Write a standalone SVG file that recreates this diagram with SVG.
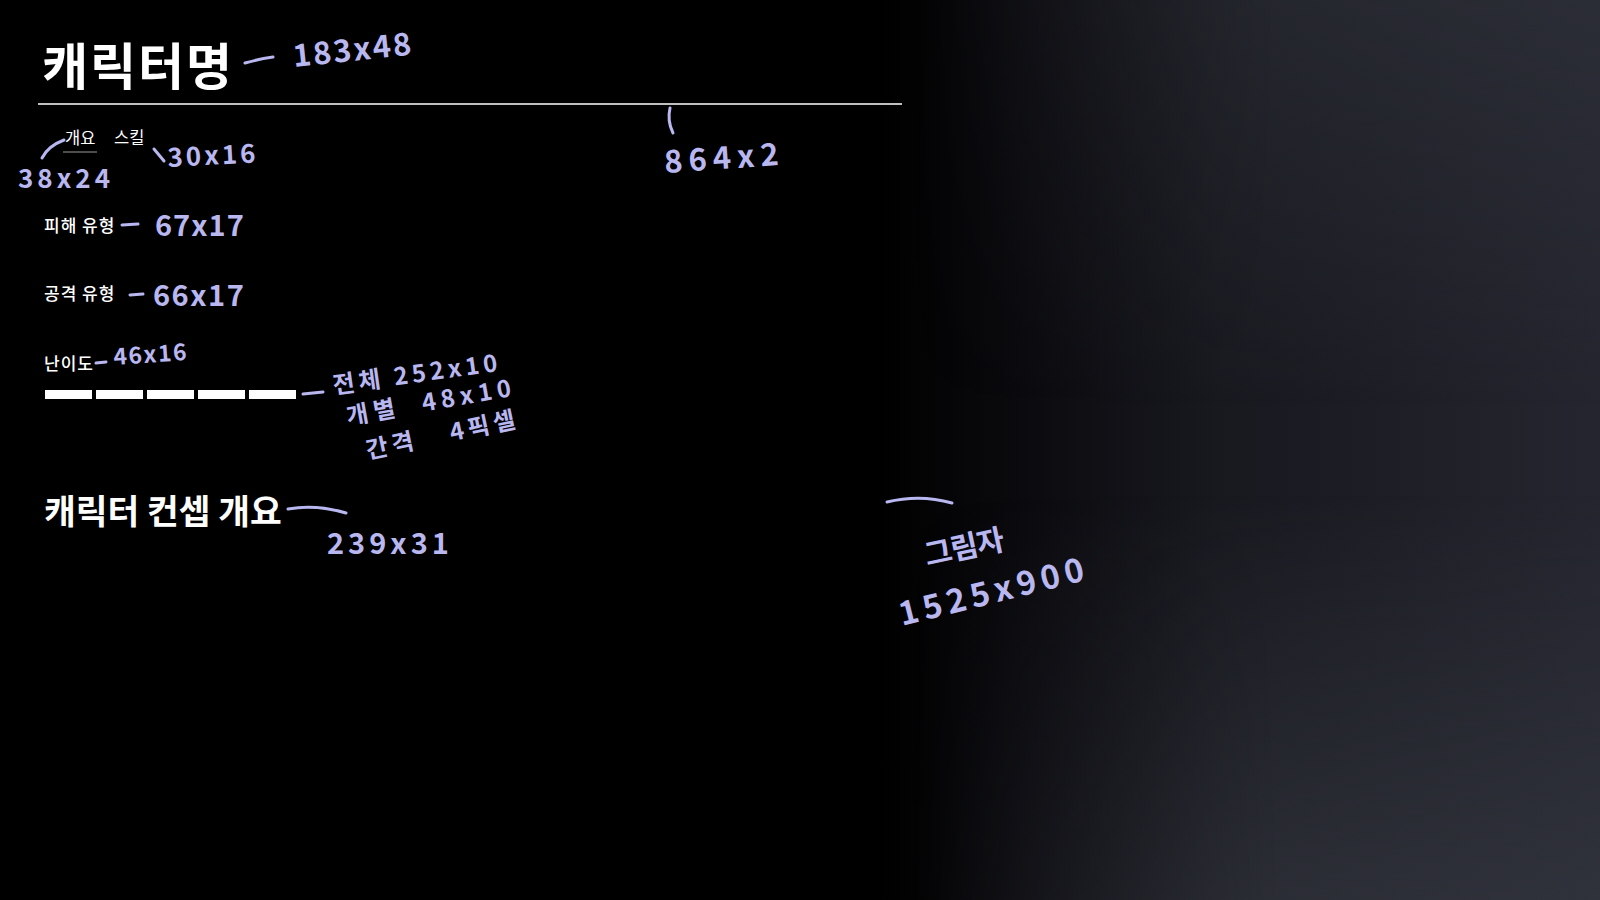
<svg xmlns="http://www.w3.org/2000/svg" width="1600" height="900" viewBox="0 0 1600 900">
  <defs>
    <linearGradient id="bgH" x1="0" y1="0" x2="1600" y2="0" gradientUnits="userSpaceOnUse">
      <stop offset="0.55" stop-color="#000000"/>
      <stop offset="0.64" stop-color="#0b0b0f"/>
      <stop offset="0.76" stop-color="#18191f"/>
      <stop offset="1" stop-color="#24252e"/>
    </linearGradient>
    <linearGradient id="bgV" x1="0" y1="0" x2="0" y2="900" gradientUnits="userSpaceOnUse">
      <stop offset="0" stop-color="#3a3d46" stop-opacity="0.35"/>
      <stop offset="0.45" stop-color="#3a3d46" stop-opacity="0"/>
      <stop offset="0.55" stop-color="#3a3d46" stop-opacity="0"/>
      <stop offset="1" stop-color="#3a3d46" stop-opacity="0.55"/>
    </linearGradient>
    <linearGradient id="maskG" x1="0" y1="0" x2="1600" y2="0" gradientUnits="userSpaceOnUse">
      <stop offset="0.57" stop-color="#000"/>
      <stop offset="0.8" stop-color="#fff"/>
      <stop offset="1" stop-color="#fff"/>
    </linearGradient>
    <mask id="fadeMask">
      <rect x="0" y="0" width="1600" height="900" fill="url(#maskG)"/>
    </mask>
    <style>
      .ui { font-family: "Noto Sans CJK KR", "Noto Sans", sans-serif; fill: #ffffff; }
      .hw { font-family: "Noto Sans CJK KR", "Noto Sans", sans-serif; fill: #b9b7f0; font-weight: 600; }
      .stroke { fill: none; stroke: #b9b7f0; stroke-width: 3; stroke-linecap: round; stroke-linejoin: round; }
      .bar { fill: #ffffff; }
    </style>
  </defs>

  <rect x="0" y="0" width="1600" height="900" fill="#000000"/>
  <rect x="0" y="0" width="1600" height="900" fill="url(#bgH)"/>
  <rect x="0" y="0" width="1600" height="900" fill="url(#bgV)" mask="url(#fadeMask)"/>

  <g id="title">
    <text class="ui" x="42" y="85" font-size="50" font-weight="700" letter-spacing="2">캐릭터명</text>
  </g>
  <g id="divider">
    <line x1="38" y1="104" x2="902" y2="104" stroke="#ffffff" stroke-width="1.5"/>
  </g>
  <g id="tabs">
    <text class="ui" x="65" y="144" font-size="16.5">개요</text>
    <line x1="63" y1="152" x2="97" y2="152" stroke="#9a9a9a" stroke-width="1"/>
    <text class="ui" x="114" y="144" font-size="16.5">스킬</text>
  </g>
  <g id="damage-type">
    <text class="ui" x="44" y="232" font-size="17" font-weight="500" letter-spacing="1">피해 유형</text>
  </g>
  <g id="attack-type">
    <text class="ui" x="44" y="300" font-size="17" font-weight="500" letter-spacing="1">공격 유형</text>
  </g>
  <g id="difficulty">
    <text class="ui" x="44" y="370" font-size="17" font-weight="500" letter-spacing="1">난이도</text>
    <rect class="bar" x="45" y="390" width="47" height="9"/>
    <rect class="bar" x="96" y="390" width="47" height="9"/>
    <rect class="bar" x="147" y="390" width="47" height="9"/>
    <rect class="bar" x="198" y="390" width="47" height="9"/>
    <rect class="bar" x="249" y="390" width="47" height="9"/>
  </g>
  <g id="concept-title">
    <text class="ui" x="44" y="524" font-size="34.5" font-weight="700">캐릭터 컨셉 개요</text>
  </g>

  <g id="connectors">
    <path class="stroke" d="M245,63 Q259,59 273,57"/>
    <path class="stroke" d="M42,158 Q48,146 64,140"/>
    <path class="stroke" d="M154,149 L164,161"/>
    <path class="stroke" d="M670,108 Q667,121 673,133"/>
    <path class="stroke" d="M122,225 L138,224"/>
    <path class="stroke" d="M130,295 L143,294"/>
    <path class="stroke" d="M96,363 L106,362"/>
    <path class="stroke" d="M303,394 L323,392"/>
    <path class="stroke" d="M288,509 Q316,504 346,513"/>
    <path class="stroke" d="M887,502 Q920,494 952,503"/>
  </g>

  <g id="annotations">
    <text class="hw" x="294" y="67" font-size="31" letter-spacing="2" transform="rotate(-6 294 67)">183x48</text>
    <text class="hw" x="18" y="188" font-size="26" letter-spacing="4">38x24</text>
    <text class="hw" x="168" y="167" font-size="26" letter-spacing="3" transform="rotate(-3 168 167)">30x16</text>
    <text class="hw" x="665" y="173" font-size="31" letter-spacing="6" transform="rotate(-4 665 173)">864x2</text>
    <text class="hw" x="155" y="236" font-size="29" letter-spacing="1">67x17</text>
    <text class="hw" x="153" y="306" font-size="29" letter-spacing="1.5">66x17</text>
    <text class="hw" x="114" y="365" font-size="23" letter-spacing="1.5" transform="rotate(-4 114 365)">46x16</text>
    <text class="hw" x="334" y="394" font-size="24" letter-spacing="4" transform="rotate(-8 334 394)">전체 252x10</text>
    <text class="hw" x="348" y="425" font-size="24" letter-spacing="5" transform="rotate(-10 348 425)">개별 <tspan dx="12">48x10</tspan></text>
    <text class="hw" x="368" y="459" font-size="24" letter-spacing="4" transform="rotate(-12 368 459)">간격 <tspan dx="24">4픽셀</tspan></text>
    <text class="hw" x="327" y="554" font-size="29" letter-spacing="4">239x31</text>
    <text class="hw" x="927" y="566" font-size="30" letter-spacing="-1" transform="rotate(-12 927 566)">그림자</text>
    <text class="hw" x="902" y="626" font-size="33" letter-spacing="5" transform="rotate(-14 902 626)">1525x900</text>
  </g>
</svg>
